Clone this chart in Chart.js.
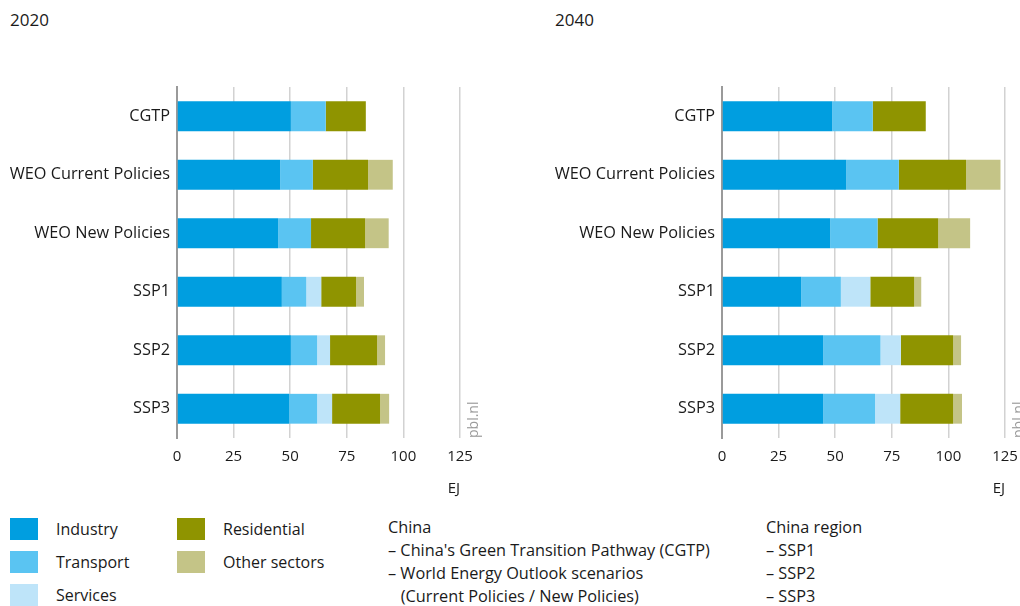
<!DOCTYPE html>
<html lang="en">
<head>
    <meta charset="UTF-8">
    <title>China energy use by sector, 2020 and 2040</title>
    <script src="https://cdn.jsdelivr.net/npm/chart.js"></script>
    <style>
        body {
            margin: 0;
            width: 1020px;
            height: 606px;
            overflow: hidden;
            font-family: "Open Sans", sans-serif;
            color: #1a1a1a;
            background: white;
            position: relative;
        }
        .year {
            position: absolute;
            top: 8px;
            font-size: 17px;
        }
        canvas {
            position: absolute;
            top: 0;
        }
        .pbl {
            position: absolute;
            font-size: 14px;
            color: #9a9a9a;
            transform-origin: left top;
            transform: rotate(-90deg);
        }
        .legend-item {
            position: absolute;
            font-size: 16px;
            line-height: 22px;
        }
        .legend-item span {
            display: inline-block;
            width: 28px;
            height: 22px;
            vertical-align: top;
            margin-right: 18px;
        }
        .notes {
            position: absolute;
            top: 516px;
            font-size: 16.3px;
            line-height: 23px;
        }
    </style>
</head>
<body>
    <div class="year" style="left:10px">2020</div>
    <div class="year" style="left:555px">2040</div>

    <canvas id="chart2020" width="500" height="500" style="left:0"></canvas>
    <canvas id="chart2040" width="500" height="500" style="left:545px"></canvas>

    <div class="pbl" style="left:463px; top:438px">pbl.nl</div>
    <div class="pbl" style="left:1008px; top:438px">pbl.nl</div>

    <div class="legend-item" style="left:10px; top:518px"><span style="background:#009ee0"></span>Industry</div>
    <div class="legend-item" style="left:10px; top:551px"><span style="background:#5ac4f2"></span>Transport</div>
    <div class="legend-item" style="left:10px; top:584px"><span style="background:#bee4f9"></span>Services</div>
    <div class="legend-item" style="left:177px; top:518px"><span style="background:#8f9400"></span>Residential</div>
    <div class="legend-item" style="left:177px; top:551px"><span style="background:#c4c487"></span>Other sectors</div>

    <div class="notes" style="left:388px">
        China<br>
        – China's Green Transition Pathway (CGTP)<br>
        – World Energy Outlook scenarios<br>
        &nbsp;&nbsp;&nbsp;(Current Policies / New Policies)
    </div>
    <div class="notes" style="left:766px">
        China region<br>
        – SSP1<br>
        – SSP2<br>
        – SSP3
    </div>

    <script>
        const scenarios = ['CGTP', 'WEO Current Policies', 'WEO New Policies', 'SSP1', 'SSP2', 'SSP3'];
        const xTicks = [0, 25, 50, 75, 100, 125];

        // EJ per sector, 2020
        const industry2020 = [50.3, 45.6, 44.7, 46.3, 50.3, 49.5];
        const transport2020 = [15.4, 14.4, 14.5, 10.8, 11.6, 12.4];
        const services2020 = [0, 0, 0, 6.6, 5.7, 6.6];
        const residential2020 = [17.7, 24.4, 23.9, 15.4, 20.8, 21.2];
        const other2020 = [0, 10.9, 10.4, 3.5, 3.5, 4.0];

        // EJ per sector, 2040
        const industry2040 = [48.7, 54.9, 47.8, 35.0, 44.7, 44.7];
        const transport2040 = [17.9, 23.2, 20.9, 17.5, 25.3, 22.9];
        const services2040 = [0, 0, 0, 13.0, 9.0, 11.1];
        const residential2040 = [23.4, 29.7, 26.8, 19.4, 23.1, 23.4];
        const other2040 = [0, 15.2, 14.1, 3.1, 3.5, 3.9];

        const sectorColors = {
            Industry: '#009ee0',
            Transport: '#5ac4f2',
            Services: '#bee4f9',
            Residential: '#8f9400',
            'Other sectors': '#c4c487'
        };

        function makeChart(id, series) {
            const datasets = Object.keys(series).map(name => ({
                label: name,
                data: series[name],
                backgroundColor: sectorColors[name],
                borderWidth: 0,
                barPercentage: 0.51,
                categoryPercentage: 1
            }));

            new Chart(document.getElementById(id), {
                type: 'bar',
                data: { labels: scenarios, datasets: datasets },
                options: {
                    indexAxis: 'y',
                    responsive: false,
                    animation: false,
                    layout: {
                        padding: { top: 87, right: 40, bottom: 0, left: 0 }
                    },
                    plugins: {
                        legend: { display: false },
                        tooltip: { enabled: false }
                    },
                    scales: {
                        x: {
                            stacked: true,
                            min: 0,
                            max: 125,
                            afterBuildTicks: scale => {
                                scale.ticks = xTicks.map(v => ({ value: v }));
                            },
                            afterFit: scale => { scale.height = 62; },
                            ticks: {
                                color: '#1a1a1a',
                                padding: 10,
                                font: { family: 'Open Sans', size: 15 }
                            },
                            grid: {
                                color: '#d2d2d2',
                                lineWidth: 1.5,
                                drawTicks: false
                            },
                            border: { display: false },
                            title: {
                                display: true,
                                text: 'EJ',
                                align: 'end',
                                color: '#1a1a1a',
                                padding: { top: 0, bottom: 2 },
                                font: { family: 'Open Sans', size: 15 }
                            }
                        },
                        y: {
                            stacked: true,
                            afterFit: scale => { scale.width = 177; },
                            ticks: {
                                color: '#1a1a1a',
                                padding: 7,
                                font: { family: 'Open Sans', size: 16.3 }
                            },
                            grid: { display: false, drawTicks: false },
                            border: { display: true, color: '#9a9a9a', width: 2 }
                        }
                    }
                }
            });
        }

        makeChart('chart2020', {
            Industry: industry2020,
            Transport: transport2020,
            Services: services2020,
            Residential: residential2020,
            'Other sectors': other2020
        });

        makeChart('chart2040', {
            Industry: industry2040,
            Transport: transport2040,
            Services: services2040,
            Residential: residential2040,
            'Other sectors': other2040
        });
    </script>
</body>
</html>
